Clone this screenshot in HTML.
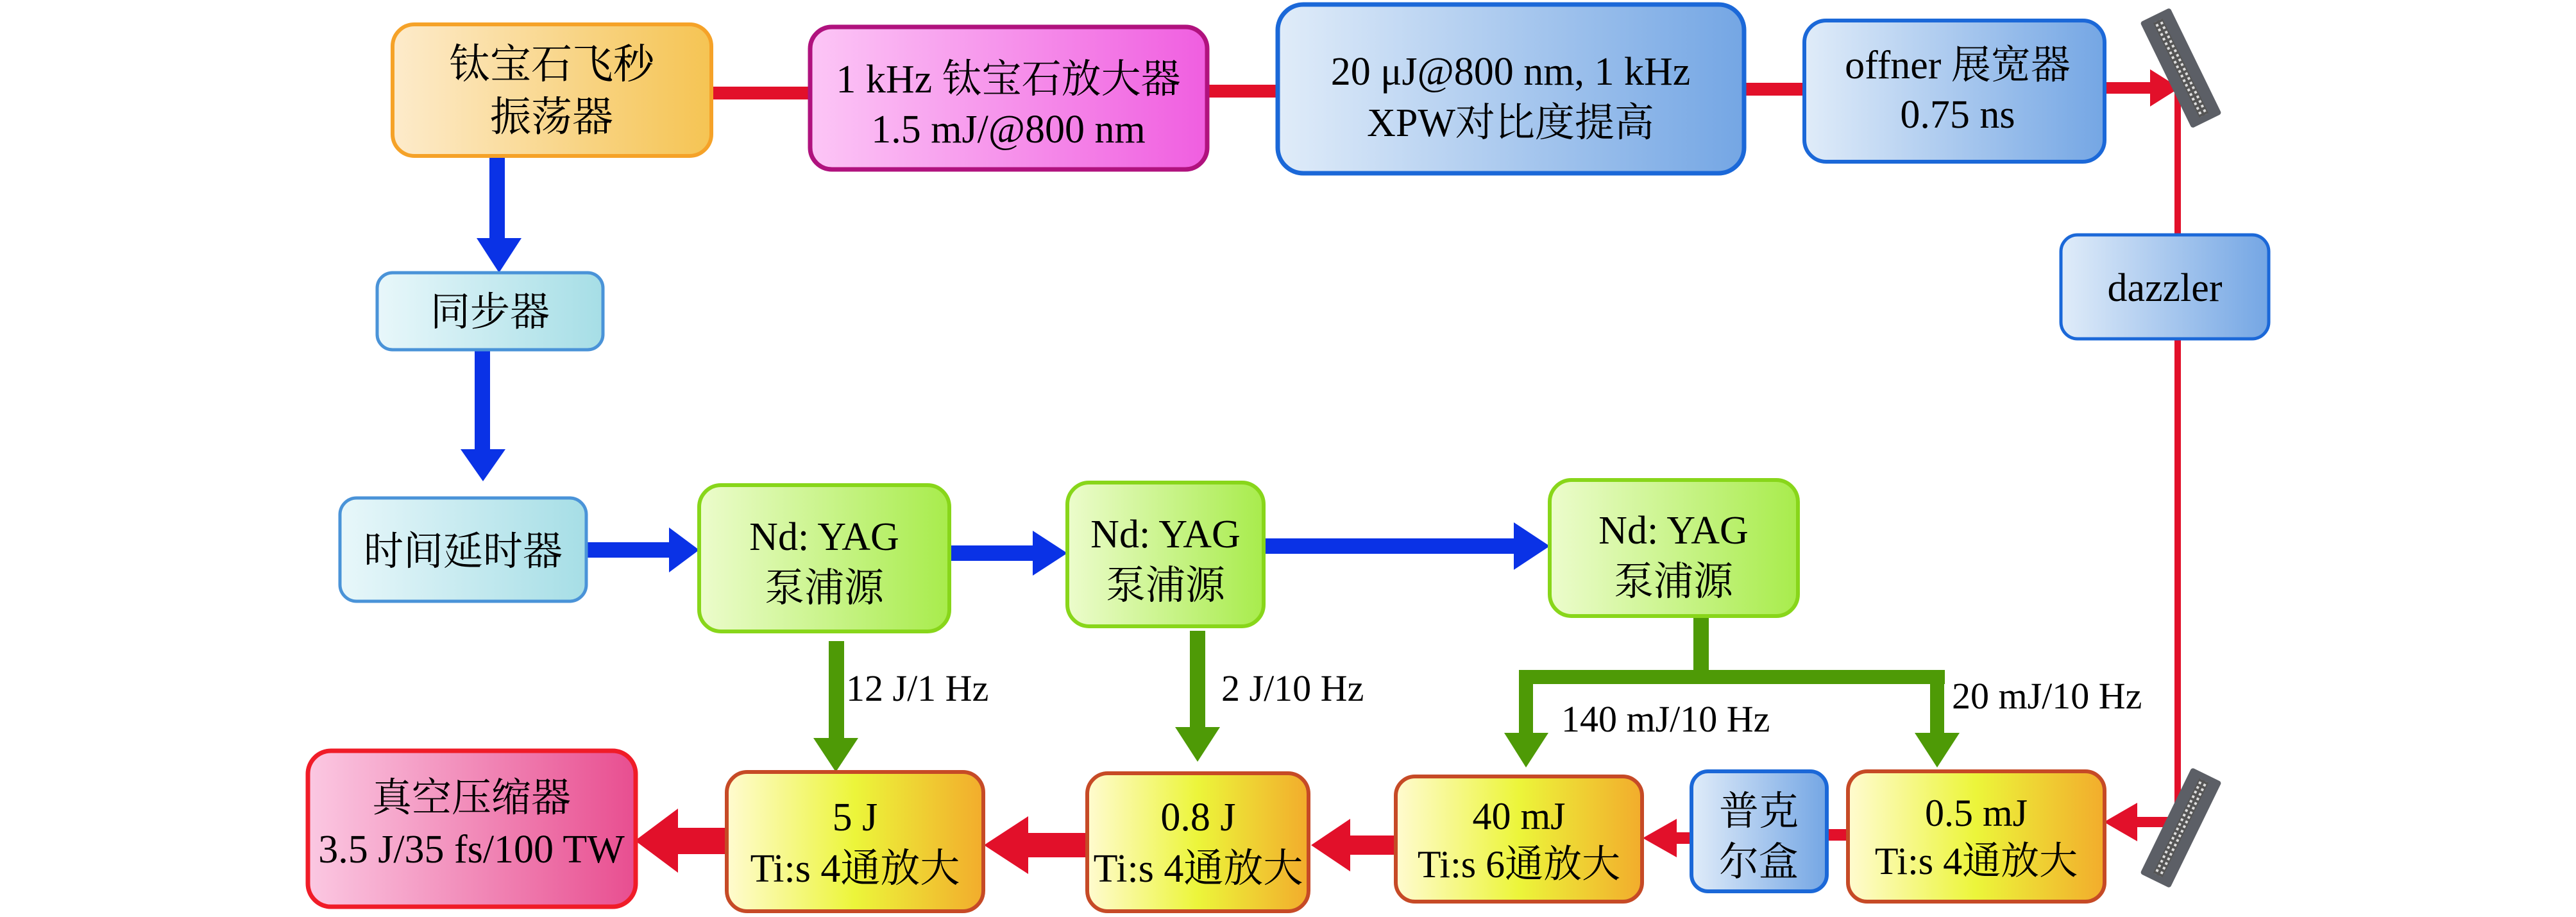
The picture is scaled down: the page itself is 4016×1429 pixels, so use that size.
<!DOCTYPE html>
<html><head><meta charset="utf-8"><style>
html,body{margin:0;padding:0;background:#fff;}
svg{display:block;}
svg text{font-family:"Liberation Serif","Times New Roman","Noto Serif CJK SC",serif;fill:#000;text-anchor:middle;}
</style></head><body>
<svg width="4016" height="1429" viewBox="0 0 4016 1429" xmlns="http://www.w3.org/2000/svg" font-family="Liberation Serif, Noto Serif CJK SC, serif">
<defs>
<linearGradient id="gO" x1="0" x2="1"><stop offset="0" stop-color="#fdebcb"/><stop offset="1" stop-color="#f5c453"/></linearGradient>
<linearGradient id="gM" x1="0" x2="1"><stop offset="0" stop-color="#fcc6f6"/><stop offset="1" stop-color="#f05ee0"/></linearGradient>
<linearGradient id="gB" x1="0" x2="1"><stop offset="0" stop-color="#e0ecf9"/><stop offset="1" stop-color="#74a6e4"/></linearGradient>
<linearGradient id="gC" x1="0" x2="1"><stop offset="0" stop-color="#e8f7fa"/><stop offset="1" stop-color="#a6dee6"/></linearGradient>
<linearGradient id="gG" x1="0" x2="1"><stop offset="0" stop-color="#ecfccc"/><stop offset="1" stop-color="#a8ec4c"/></linearGradient>
<linearGradient id="gY" x1="0" x2="1"><stop offset="0" stop-color="#fffbd0"/><stop offset="0.5" stop-color="#ecf53a"/><stop offset="1" stop-color="#f2ac2c"/></linearGradient>
<linearGradient id="gP" x1="0" x2="1"><stop offset="0" stop-color="#fbc8e2"/><stop offset="1" stop-color="#e84e90"/></linearGradient>
<pattern id="dots" width="8" height="8" patternUnits="userSpaceOnUse"><rect width="8" height="8" fill="#555"/><rect x="2" y="2" width="4" height="4" fill="#ddd"/></pattern>
</defs>

<rect x="1105" y="135" width="160" height="20" fill="#e2102a"/>
<rect x="1878" y="132" width="116" height="20" fill="#e2102a"/>
<rect x="2717" y="129" width="98" height="20" fill="#e2102a"/>
<rect x="3278" y="128" width="78" height="18" fill="#e2102a"/>
<polygon points="3352,108 3398,137 3352,166" fill="#e2102a"/>
<rect x="3390" y="137" width="10" height="1140" fill="#e2102a"/>

<rect x="763" y="240" width="24" height="135" fill="#0a32e6"/>
<polygon points="743,371 813,371 778,425" fill="#0a32e6"/>
<rect x="740" y="543" width="24" height="165" fill="#0a32e6"/>
<polygon points="718,700 788,700 753,750" fill="#0a32e6"/>

<rect x="912" y="845" width="135" height="24" fill="#0a32e6"/>
<polygon points="1043,822 1090,857 1043,892" fill="#0a32e6"/>
<rect x="1478" y="850" width="135" height="24" fill="#0a32e6"/>
<polygon points="1610,827 1664,862 1610,897" fill="#0a32e6"/>
<rect x="1969" y="839" width="395" height="24" fill="#0a32e6"/>
<polygon points="2360,814 2416,851 2360,888" fill="#0a32e6"/>

<g fill="#4e9a06">
<rect x="1292" y="999" width="24" height="156"/>
<polygon points="1268,1150 1338,1150 1303,1203"/>
<rect x="1855" y="983" width="24" height="152"/>
<polygon points="1832,1133 1902,1133 1867,1187"/>
<rect x="2640" y="960" width="24" height="100"/>
<rect x="2368" y="1044" width="664" height="22"/>
<rect x="2368" y="1044" width="22" height="104"/>
<rect x="3009" y="1044" width="22" height="104"/>
<polygon points="2345,1142 2414,1142 2379,1196"/>
<polygon points="2985,1142 3055,1142 3020,1196"/>
</g>
<text x="1319" y="1092" font-size="58" style="text-anchor:start">12 J/1 Hz</text>
<text x="1904" y="1092" font-size="58" style="text-anchor:start">2 J/10 Hz</text>
<text x="2434" y="1140" font-size="58" style="text-anchor:start">140 mJ/10 Hz</text>
<text x="3043" y="1104" font-size="58" style="text-anchor:start">20 mJ/10 Hz</text>

<g fill="#e2102a">
<rect x="3320" y="1273" width="75" height="16"/>
<polygon points="3332,1251 3280,1281 3332,1311"/>
<rect x="2846" y="1292" width="36" height="18"/>
<rect x="2600" y="1297" width="38" height="18"/>
<polygon points="2614,1276 2561,1306 2614,1336"/>
<rect x="2095" y="1302" width="82" height="30"/>
<polygon points="2105,1276 2044,1317 2105,1358"/>
<rect x="1590" y="1298" width="106" height="38"/>
<polygon points="1603,1272 1534,1317 1603,1362"/>
<rect x="1040" y="1290" width="94" height="41"/>
<polygon points="1057,1260 990,1310 1057,1360"/>
</g>

<g transform="translate(3400,106) rotate(-26)">
<rect x="-26" y="-92" width="52" height="184" rx="4" fill="#5c5f66"/>
<rect x="-8" y="-82" width="16" height="164" fill="url(#dots)"/>
</g>
<g transform="translate(3400,1290) rotate(26)">
<rect x="-26" y="-92" width="52" height="184" rx="4" fill="#5c5f66"/>
<rect x="-8" y="-82" width="16" height="164" fill="url(#dots)"/>
</g>

<rect x="612" y="38" width="497" height="205" rx="34" fill="url(#gO)" stroke="#f5a228" stroke-width="6"/>
<text x="860" y="122" font-size="64">钛宝石飞秒</text>
<text x="860" y="204" font-size="64">振荡器</text>

<rect x="1263" y="42" width="619" height="222" rx="34" fill="url(#gM)" stroke="#b0127e" stroke-width="7"/>
<text x="1572" y="144" font-size="62">1 kHz 钛宝石放大器</text>
<text x="1572" y="222" font-size="62">1.5 mJ/@800 nm</text>

<rect x="1992" y="7" width="727" height="263" rx="40" fill="url(#gB)" stroke="#1b68d8" stroke-width="7"/>
<text x="2355" y="132" font-size="62">20 μJ@800 nm, 1 kHz</text>
<text x="2355" y="212" font-size="62">XPW对比度提高</text>

<rect x="2813" y="32" width="468" height="220" rx="34" fill="url(#gB)" stroke="#1b68d8" stroke-width="6"/>
<text x="3052" y="122" font-size="62">offner 展宽器</text>
<text x="3052" y="199" font-size="62">0.75 ns</text>

<rect x="3213" y="366" width="324" height="162" rx="26" fill="url(#gB)" stroke="#1b68d8" stroke-width="5"/>
<text x="3375" y="469" font-size="62">dazzler</text>

<rect x="588" y="425" width="352" height="120" rx="24" fill="url(#gC)" stroke="#4a93d8" stroke-width="5"/>
<text x="764" y="507" font-size="62">同步器</text>

<rect x="530" y="776" width="384" height="161" rx="26" fill="url(#gC)" stroke="#4a93d8" stroke-width="5"/>
<text x="722" y="880" font-size="62">时间延时器</text>

<rect x="1090" y="756" width="390" height="228" rx="34" fill="url(#gG)" stroke="#88d61a" stroke-width="6"/>
<text x="1285" y="857" font-size="62">Nd: YAG</text>
<text x="1285" y="937" font-size="62">泵浦源</text>

<rect x="1664" y="752" width="306" height="224" rx="34" fill="url(#gG)" stroke="#88d61a" stroke-width="6"/>
<text x="1817" y="853" font-size="62">Nd: YAG</text>
<text x="1817" y="933" font-size="62">泵浦源</text>

<rect x="2416" y="748" width="387" height="212" rx="34" fill="url(#gG)" stroke="#88d61a" stroke-width="6"/>
<text x="2609" y="847" font-size="62">Nd: YAG</text>
<text x="2609" y="927" font-size="62">泵浦源</text>

<rect x="480" y="1170" width="511" height="243" rx="36" fill="url(#gP)" stroke="#f01c28" stroke-width="7"/>
<text x="735" y="1264" font-size="62">真空压缩器</text>
<text x="735" y="1344" font-size="62">3.5 J/35 fs/100 TW</text>

<rect x="1133" y="1203" width="400" height="217" rx="32" fill="url(#gY)" stroke="#c64a26" stroke-width="6"/>
<text x="1333" y="1294" font-size="62">5 J</text>
<text x="1333" y="1374" font-size="62">Ti:s 4通放大</text>

<rect x="1695" y="1205" width="345" height="215" rx="32" fill="url(#gY)" stroke="#c64a26" stroke-width="6"/>
<text x="1868" y="1294" font-size="62">0.8 J</text>
<text x="1868" y="1374" font-size="62">Ti:s 4通放大</text>

<rect x="2176" y="1210" width="384" height="195" rx="30" fill="url(#gY)" stroke="#c64a26" stroke-width="6"/>
<text x="2368" y="1292" font-size="60">40 mJ</text>
<text x="2368" y="1367" font-size="60">Ti:s 6通放大</text>

<rect x="2637" y="1202" width="211" height="187" rx="26" fill="url(#gB)" stroke="#1b68d8" stroke-width="6"/>
<text x="2742" y="1285" font-size="62">普克</text>
<text x="2742" y="1364" font-size="62">尔盒</text>

<rect x="2881" y="1202" width="400" height="203" rx="30" fill="url(#gY)" stroke="#c64a26" stroke-width="6"/>
<text x="3081" y="1287" font-size="60">0.5 mJ</text>
<text x="3081" y="1362" font-size="60">Ti:s 4通放大</text>
</svg>
</body></html>
